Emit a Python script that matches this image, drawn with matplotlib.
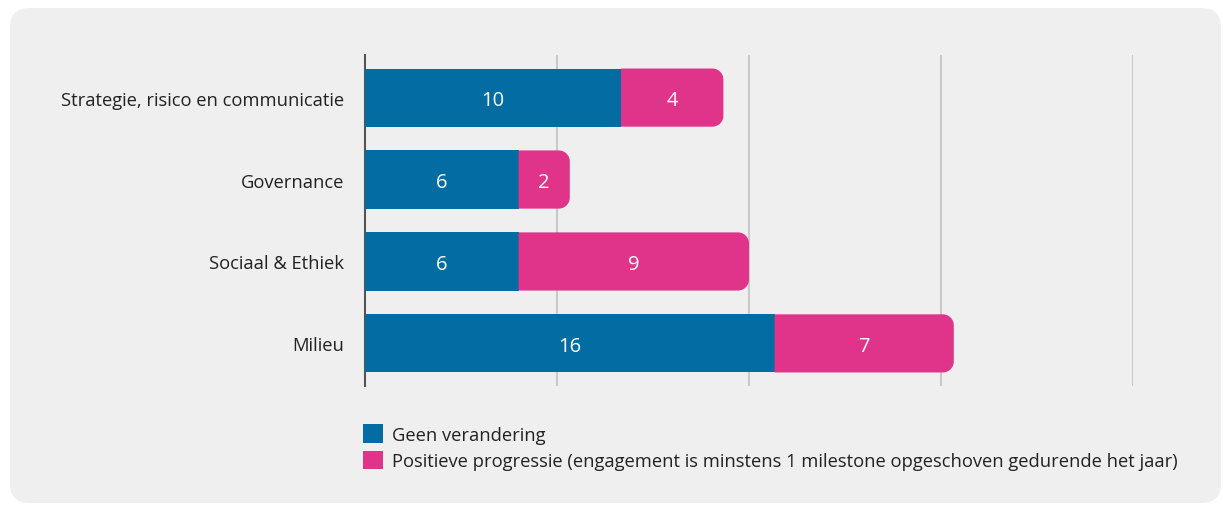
import matplotlib.pyplot as plt
from matplotlib.patches import FancyBboxPatch, PathPatch, Patch
from matplotlib.path import Path
import numpy as np

plt.rcParams['font.family'] = ['Open Sans', 'DejaVu Sans']

categories = ['Strategie, risico en communicatie', 'Governance', 'Sociaal & Ethiek', 'Milieu']
geen = [10, 6, 6, 16]
positief = [4, 2, 9, 7]
series_names = ['Geen verandering',
                'Positieve progressie (engagement is minstens 1 milestone opgeschoven gedurende het jaar)']

blue = '#036ca3'
pink = '#e0338a'
bg = '#efefef'

W, H = 1223, 506
fig = plt.figure(figsize=(W / 100, H / 100), dpi=100, facecolor='white')

# grey rounded panel behind everything
panel = FancyBboxPatch((10 / W, 2 / H), 1211 / W, 495 / H,
                       boxstyle='round,pad=0,rounding_size=0.016',
                       mutation_aspect=W / H,
                       transform=fig.transFigure, facecolor=bg, edgecolor='none', zorder=-5)
fig.patches.append(panel)

ax = fig.add_axes([365 / W, 1 - 387 / H, (1133 - 365) / W, (387 - 56) / H])
ax.set_facecolor('none')
ax.set_xlim(0, 30)
ax.set_ylim(3.52, -0.52)

y = np.arange(len(categories))
h = 0.71
ax.barh(y, geen, height=h, color=blue, zorder=3)

# pink segments with rounded right corners
px_x = ax.get_position().width * W / 30.0
px_y = ax.get_position().height * H / 4.04
rx = 11 / px_x
ry = 11 / px_y
t = np.linspace(0, np.pi / 2, 12)
for yi, left, w in zip(y, geen, positief):
    right = left + w
    top, bot = yi - h / 2, yi + h / 2
    pts = [(left, top)]
    for a in t:
        pts.append((right - rx + rx * np.sin(a), top + ry - ry * np.cos(a)))
    for a in t:
        pts.append((right - rx + rx * np.cos(a), bot - ry + ry * np.sin(a)))
    pts.append((left, bot))
    pts.append((left, top))
    ax.add_patch(PathPatch(Path(pts, closed=True), facecolor=pink, edgecolor='none', zorder=3))

for yi, g, p in zip(y, geen, positief):
    ax.text(g / 2, yi, str(g), color='white', ha='center', va='center_baseline', fontsize=14.5, zorder=4)
    ax.text(g + p / 2, yi, str(p), color='white', ha='center', va='center_baseline', fontsize=14.5, zorder=4)

ax.set_xticks([7.5, 15, 22.5, 30])
ax.xaxis.grid(True, color='#c9c9c9', linewidth=1.5, zorder=1)
ax.tick_params(axis='x', length=0, labelbottom=False)
ax.set_yticks(y)
ax.set_yticklabels(categories, fontsize=13.2, color='#222222')
ax.tick_params(axis='y', length=0, pad=15)
for s in ['top', 'right', 'bottom']:
    ax.spines[s].set_visible(False)
ax.spines['left'].set_color('#555555')
ax.spines['left'].set_linewidth(1.5)
ax.set_axisbelow(True)

handles = [Patch(facecolor=blue, edgecolor='none'), Patch(facecolor=pink, edgecolor='none')]
fig.legend(handles, series_names, loc='upper left', bbox_to_anchor=(356 / W, 1 - 418 / H),
           frameon=False, fontsize=13.2, handlelength=1.05, handleheight=1.15,
           handletextpad=0.5, labelspacing=0.4, borderaxespad=0, labelcolor='#222222')

fig.savefig('out.png', dpi=100, facecolor='white')
